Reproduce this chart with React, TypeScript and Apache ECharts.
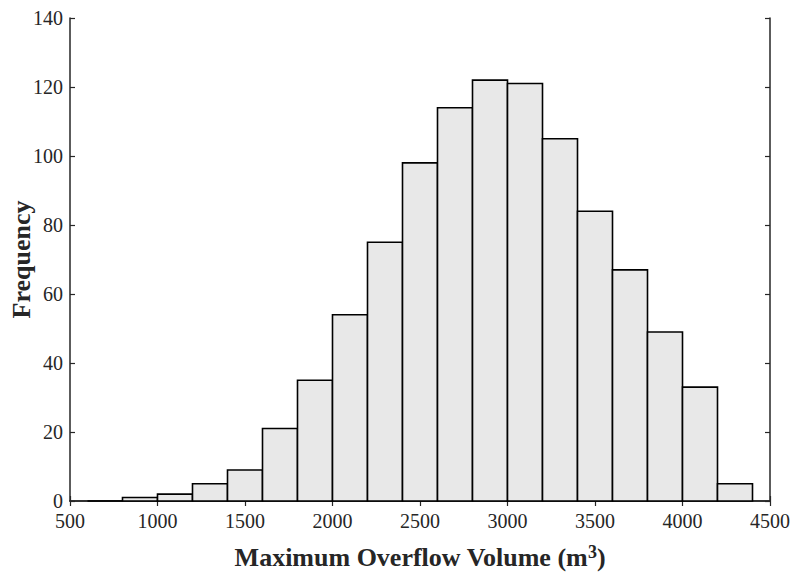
import React, { useEffect, useRef } from "react";
import * as echarts from "echarts";

const binStarts = [600, 800, 1000, 1200, 1400, 1600, 1800, 2000, 2200, 2400, 2600, 2800, 3000, 3200, 3400, 3600, 3800, 4000, 4200];
const binWidth = 200;
const counts = [0, 1, 2, 5, 9, 21, 35, 54, 75, 98, 114, 122, 121, 105, 84, 67, 49, 33, 5];
const xTicks = [500, 1000, 1500, 2000, 2500, 3000, 3500, 4000, 4500];
const yTicks = [0, 20, 40, 60, 80, 100, 120, 140];

const FONT = "'Liberation Serif', 'Times New Roman', serif";

export default function App() {
  const ref = useRef<HTMLDivElement>(null);
  useEffect(() => {
    if (!ref.current) return;
    const chart = echarts.init(ref.current, undefined, { renderer: "svg" });
    const data = binStarts.map((s, i) => [s, s + binWidth, counts[i]]);
    const axisCommon = {
      type: "value" as const,
      axisLine: { show: true, lineStyle: { color: "#262626", width: 1.5 } },
      axisTick: { show: true, inside: true, length: 5, lineStyle: { color: "#262626", width: 1.2 } },
      splitLine: { show: false },
    };
    chart.setOption({
      animation: false,
      backgroundColor: "#ffffff",
      grid: { left: 70, right: 23, top: 18, bottom: 72, containLabel: false, outerBoundsMode: "none" },
      xAxis: [
        {
          ...axisCommon,
          position: "bottom",
          min: xTicks[0],
          max: xTicks[xTicks.length - 1],
          interval: 500,
          axisLabel: { color: "#262626", fontFamily: FONT, fontSize: 20, lineHeight: 16, margin: 12, formatter: (v: number) => String(v) },
          name: "Maximum Overflow Volume (m{sup|3})",
          nameLocation: "middle",
          nameGap: 42,
          nameMoveOverlap: false,
          nameTextStyle: {
            color: "#262626",
            fontFamily: FONT,
            fontSize: 26,
            fontWeight: "bold",
            lineHeight: 28,
            rich: {
              sup: { fontFamily: FONT, fontSize: 18, fontWeight: "bold", color: "#262626", verticalAlign: "top", lineHeight: 14, padding: [0, 0, 0, 0] },
            },
          },
        },
        {
          ...axisCommon,
          position: "top",
          min: xTicks[0],
          max: xTicks[xTicks.length - 1],
          interval: 500,
          axisLabel: { show: false },
        },
      ],
      yAxis: [
        {
          ...axisCommon,
          position: "left",
          min: yTicks[0],
          max: yTicks[yTicks.length - 1],
          interval: 20,
          axisLabel: { color: "#262626", fontFamily: FONT, fontSize: 20, lineHeight: 16, margin: 7 },
          name: "Frequency",
          nameLocation: "middle",
          nameGap: 37,
          nameMoveOverlap: false,
          nameTextStyle: { color: "#262626", fontFamily: FONT, fontSize: 26, fontWeight: "bold", lineHeight: 24 },
        },
        {
          ...axisCommon,
          position: "right",
          min: yTicks[0],
          max: yTicks[yTicks.length - 1],
          interval: 20,
          axisLabel: { show: false },
        },
      ],
      series: [
        {
          type: "custom",
          xAxisIndex: 0,
          yAxisIndex: 0,
          data,
          z: 1,
          renderItem: (params: any, api: any) => {
            const p0 = api.coord([api.value(0), 0]);
            const p1 = api.coord([api.value(1), api.value(2)]);
            return {
              type: "rect",
              shape: { x: p0[0], y: p1[1], width: p1[0] - p0[0], height: p0[1] - p1[1] },
              style: { fill: "#e8e8e8", stroke: "#000000", lineWidth: 1.6 },
            };
          },
        },
      ],
    });
    return () => chart.dispose();
  }, []);
  return <div ref={ref} style={{ width: 793, height: 573, position: "absolute", left: 0, top: 0, background: "#fff" }} />;
}
